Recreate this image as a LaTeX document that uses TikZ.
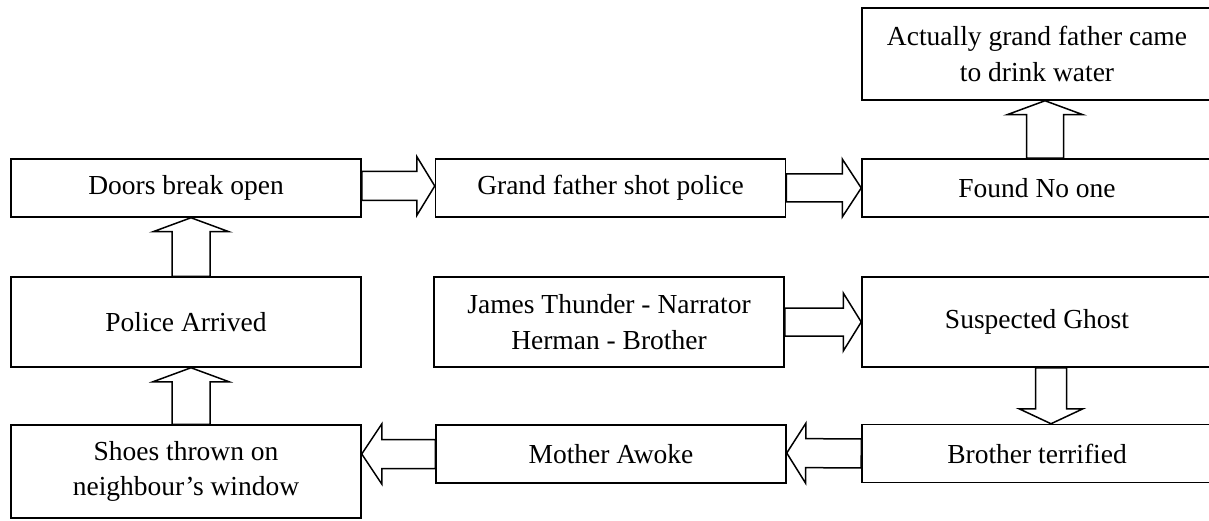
\documentclass[tikz,border=0pt]{standalone}
\usepackage{fontspec}
\setmainfont{Liberation Serif}
\usetikzlibrary{calc}
\tikzset{
  box/.style={draw, line width=1.5pt, minimum width=350pt, minimum height=58pt,
    align=center, inner sep=0pt, font=\fontsize{27.5}{35.5}\selectfont},
  barrow/.style={draw, line width=1.5pt, line join=miter}
}
% #2 start, #3 end, #4 shaft half width, #5 head half width, #6 head length (pt)
\newcommand\blockarrow[6][]{%
  \draw[barrow,#1] let \p1=#2, \p2=#3, \n1={veclen(\x2-\x1,\y2-\y1)-#6} in
   ($#2!#4!90:#3$) -- ($($#2!\n1!#3$)!#4!90:#3$) -- ($($#2!\n1!#3$)!#5!90:#3$) -- #3
   -- ($($#2!\n1!#3$)!#5!-90:#3$) -- ($($#2!\n1!#3$)!#4!-90:#3$) -- ($#2!#4!-90:#3$) -- cycle;}
\begin{document}
\begin{tikzpicture}[x=1pt,y=-1pt]
\useasboundingbox (0,0) rectangle (1209,521);
\clip (0,0) rectangle (1209,521);
% top
\node[box, minimum height=92pt] (act) at (1037,54) {Actually grand father came\\to drink water};
% row 1
\node[box] (doors) at (186,188) {Doors break open};
\node[box] (grand) at (610.5,188) {Grand father shot police};
\node[box] (found) at (1037,188) {Found No one};
% row 2
\node[box, minimum height=90pt] (police) at (186,322) {Police Arrived};
\node[box, minimum height=90pt] (james) at (609,322) {James Thunder - Narrator\\Herman - Brother};
\node[box, minimum height=90pt] (susp) at (1037,322) {Suspected Ghost};
% row 3
\node[box, minimum height=93pt] (shoes) at (186,471.5) {Shoes thrown on\\neighbour’s window};
\node[box] (mother) at (611,454) {Mother Awoke};
\node[box] (brother) at (1037,453.5) {Brother terrified};
% arrows
\blockarrow{([yshift=2pt]doors.east)}{([yshift=2pt]doors.east -| grand.west)}{14.5pt}{29.5pt}{18pt}
\blockarrow{(grand.east)}{(found.west)}{14pt}{29pt}{19pt}
\blockarrow{([xshift=8pt]found.north)}{([xshift=8pt]act.south)}{18.5pt}{38pt}{14pt}
\blockarrow{([xshift=5pt]police.north)}{([xshift=5pt]doors.south)}{19pt}{38pt}{14pt}
\blockarrow{([xshift=5pt]shoes.north)}{([xshift=5pt]police.south)}{19pt}{38pt}{14pt}
\blockarrow{(james.east)}{(susp.west)}{14pt}{29pt}{18pt}
\blockarrow{([xshift=14pt]susp.south)}{([xshift=14pt]brother.north)}{15.5pt}{32pt}{15pt}
\blockarrow{(brother.west)}{([yshift=1pt]mother.east)}{14.5pt}{30pt}{19pt}
\blockarrow{(mother.west)}{(mother.west -| shoes.east)}{14.5pt}{30pt}{20pt}
\end{tikzpicture}
\end{document}
